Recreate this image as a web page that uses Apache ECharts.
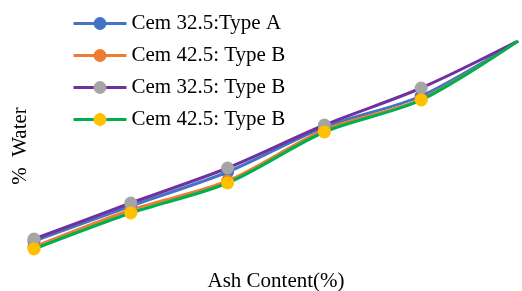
<!DOCTYPE html>
<html>
<head>
<meta charset="utf-8">
<script src="https://cdn.jsdelivr.net/npm/echarts@6/dist/echarts.min.js"></script>
<style>
  html, body { margin: 0; padding: 0; background: #fff; }
  #main { width: 522px; height: 291px; }
</style>
</head>
<body>
<div id="main"></div>
<script>
// categories on the x axis (no labels shown in the chart)
var ashContent = ['0', '5', '10', '15', '20', '25'];

// % water
var cem325A = [2.1, 5.6, 9.0, 13.5, 16.6, 22.1];
var cem425B = [1.5, 5.2, 8.1, 13.2, 16.3, 22.1];
var cem325B = [2.3, 5.9, 9.4, 13.7, 17.4, 22.1];
var cem425B2 = [1.3, 4.9, 7.9, 13.0, 16.2, 22.1];

var seriesNames = ['Cem 32.5:Type A', 'Cem 42.5: Type B', 'Cem 32.5: Type B', 'Cem 42.5: Type B '];
var seriesData = [cem325A, cem425B, cem325B, cem425B2];
var lineColors = ['#4472C4', '#ED7D31', '#7030A0', '#00B050'];
var markerColors = ['#4472C4', '#ED7D31', '#A5A5A5', '#FFC000'];

var font = '"Liberation Serif", "Times New Roman", serif';

function makeSeries(i) {
  return {
    name: seriesNames[i],
    type: 'line',
    data: seriesData[i],
    smooth: 0.3,
    symbol: 'circle',
    symbolSize: 13,
    lineStyle: { color: lineColors[i], width: 3 },
    itemStyle: { color: markerColors[i] },
    emphasis: { disabled: true }
  };
}

var chart = echarts.init(document.getElementById('main'));
chart.setOption({
  animation: false,
  backgroundColor: '#fff',
  grid: { left: 34, right: 4, top: 42, bottom: 29, outerBoundsMode: 'none' },
  legend: {
    orient: 'vertical',
    left: 67,
    top: 8,
    itemWidth: 53,
    itemHeight: 16,
    itemGap: 11,
    lineStyle: { width: 3 },
    textStyle: { fontFamily: font, fontSize: 21, color: '#000' },
    data: seriesNames
  },
  xAxis: {
    type: 'category',
    boundaryGap: false,
    data: ashContent,
    name: 'Ash Content(%)',
    nameLocation: 'middle',
    nameGap: 9,
    nameTextStyle: { fontFamily: font, fontSize: 21, color: '#000', verticalAlign: 'top' },
    axisLine: { show: false },
    axisTick: { show: false },
    axisLabel: { show: false },
    splitLine: { show: false }
  },
  yAxis: {
    type: 'value',
    min: 0,
    max: 22,
    name: '%  Water',
    nameLocation: 'middle',
    nameGap: 3,
    nameTextStyle: { fontFamily: font, fontSize: 21, color: '#000', padding: [0, 0, 0, 12] },
    axisLine: { show: false },
    axisTick: { show: false },
    axisLabel: { show: false },
    splitLine: { show: false }
  },
  series: [makeSeries(0), makeSeries(1), makeSeries(2), makeSeries(3)]
});
</script>
</body>
</html>
